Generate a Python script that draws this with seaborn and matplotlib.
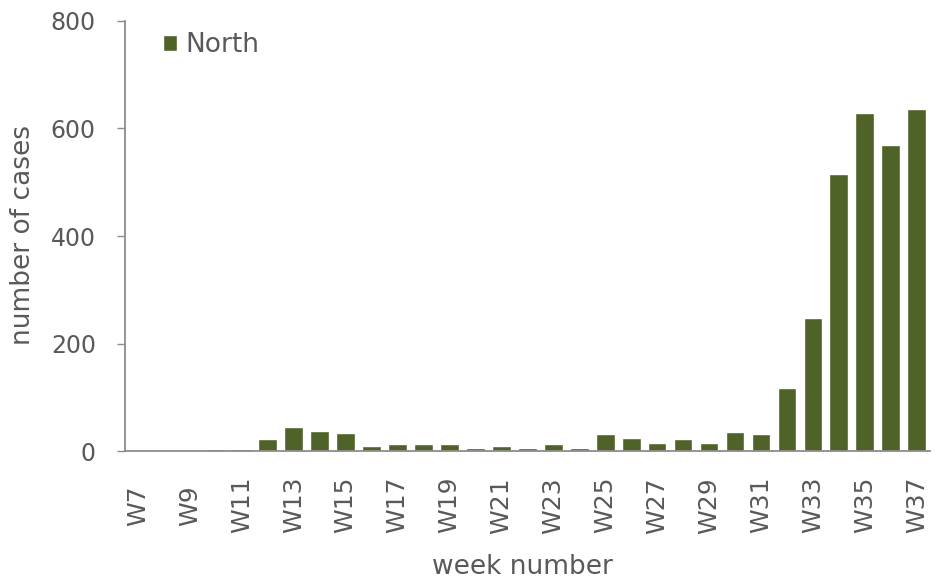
import numpy as np
import pandas as pd
import matplotlib
matplotlib.use("Agg")
import matplotlib.pyplot as plt
import seaborn as sns

# %%
# weekly case counts
weeks = ["W%d" % w for w in range(7, 38)]
cases = [0, 0, 0, 3, 4, 22, 45, 38, 33, 10, 13, 13, 13, 6, 10,
         5, 14, 5, 32, 24, 15, 22, 15, 36, 32, 117, 247, 515, 628, 569, 636]
yticks = [0, 200, 400, 600, 800]

df = pd.DataFrame({"week": weeks, "cases": cases})

# %%
sns.set_style("white")
plt.rcParams['font.family'] = ['DejaVu Sans']
txt = "#595959"
axis_col = "#8c8c8c"
bar_col = "#4F6228"

fig = plt.figure(figsize=(9.4, 5.82), dpi=100)
ax = fig.add_axes([0.133, 0.225, 0.856, 0.739])

sns.barplot(data=df, x="week", y="cases", color=bar_col, width=0.72,
            saturation=1, label="North", ax=ax)

ax.set_xlim(-0.5, len(weeks) - 0.5)
ax.set_ylim(0, 800)
ax.set_yticks(yticks)
ax.set_yticklabels([str(t) for t in yticks], fontsize=17, color=txt)

# labels every other week, tick marks between categories (Excel style)
idx = np.arange(0, len(weeks), 2)
ax.set_xticks(idx)
ax.set_xticklabels([weeks[i] for i in idx], rotation=90, fontsize=18,
                   color=txt, va="center", ha="center")
ax.tick_params(axis="x", which="major", length=0, pad=39)
ax.set_xticks(np.arange(-0.5, len(weeks), 1), minor=True)
ax.tick_params(axis="x", which="minor", length=6, color=axis_col, width=1)
ax.tick_params(axis="y", length=6, color=axis_col, width=1, left=True, pad=15)

ax.set_xlabel("week number", fontsize=19, color=txt)
ax.xaxis.label.set_va("center")
ax.xaxis.set_label_coords(0.494, -0.27)
ax.set_ylabel("number of cases", fontsize=19, color=txt)
ax.yaxis.label.set_va("center")
ax.yaxis.set_label_coords(-0.127, 0.502)

for s in ["top", "right"]:
    ax.spines[s].set_visible(False)
for s in ["left", "bottom"]:
    ax.spines[s].set_color(axis_col)
    ax.spines[s].set_linewidth(1.3)

leg = ax.legend(loc="center left", bbox_to_anchor=(0.047, 0.944), frameon=False,
                fontsize=19, handlelength=0.55, handleheight=0.55,
                handletextpad=0.3, borderaxespad=0, borderpad=0)
for t in leg.get_texts():
    t.set_color(txt)

fig.savefig("out.png", dpi=100)
